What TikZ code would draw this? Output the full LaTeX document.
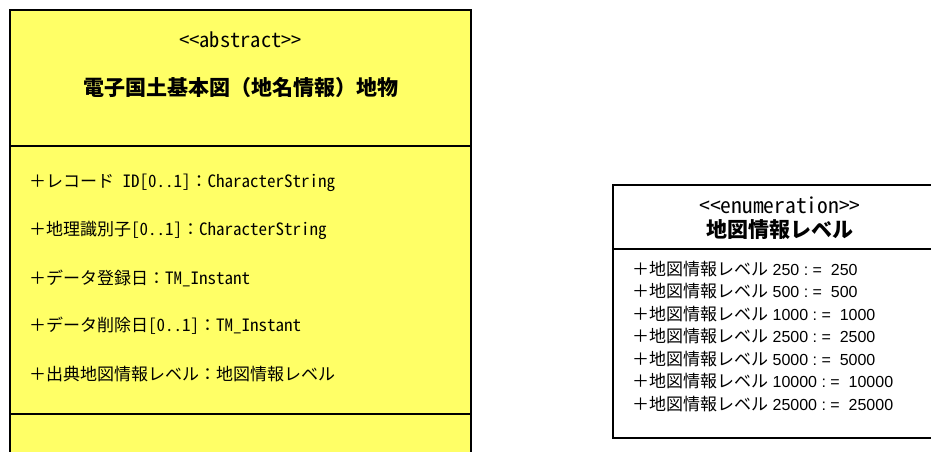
\documentclass[tikz,border=0pt]{standalone}
\usepackage{fontspec}
\setmainfont{Noto Sans CJK JP}
\newfontfamily\gothic[RawFeature=+hwid]{Noto Sans CJK JP}
\newfontfamily\jpfont{Noto Sans CJK JP}
\newfontfamily\arialfont{Liberation Sans}
\usetikzlibrary{positioning}
\definecolor{classyellow}{RGB}{255,255,102}
\newcommand{\stereotype}[1]{<\kern0pt<#1>\kern0pt>}
\newcommand{\fwplus}{{\jpfont ＋}}
\newcommand{\fwcolon}{{\jpfont ：}}

\begin{document}
\begin{tikzpicture}[x=1pt, y=-1pt, class box/.style={draw, line width=1.5pt}, stereo/.style={font=\gothic\fontsize{20.5}{22}\selectfont}, class name/.style={font=\fontsize{21}{23}\selectfont\bfseries}, attr/.style={anchor=west, inner sep=0pt, font=\gothic\fontsize{17}{19}\selectfont}, enum attr/.style={anchor=west, inner sep=0pt, font=\fontsize{17}{19}\selectfont}]

\useasboundingbox (0,0) rectangle (931,452);
\clip (0,0) rectangle (931,452);

% abstract class
\draw[class box, fill=classyellow] (10,10) rectangle (471,470);
\draw[class box] (10,146) -- (471,146);
\draw[class box] (10,414) -- (471,414);

\node[stereo](abs) at (240.5,40) {\stereotype{abstract}};
\node[class name](feature) at (240.5,88) {電子国土基本図（地名情報）地物};

\node[attr](recid) at (29,183) {\fwplus レコード ID[0..1]\fwcolon CharacterString};
\node[attr](geoid) at (29,230) {\fwplus 地理識別子[0..1]\fwcolon CharacterString};
\node[attr](regdate) at (29,278) {\fwplus データ登録日\fwcolon TM\_Instant};
\node[attr](deldate) at (29,326) {\fwplus データ削除日[0..1]\fwcolon TM\_Instant};
\node[attr](srclevel) at (29,374) {\fwplus 出典地図情報レベル\fwcolon 地図情報レベル};

% enumeration
\draw[class box, fill=white] (613,185) rectangle (947,438);
\draw[class box] (613,249) -- (947,249);

\node[stereo, font=\gothic\fontsize{21.5}{22}\selectfont](enum) at (780,205) {\stereotype{enumeration}};
\node[class name](level) at (780,230) {地図情報レベル};

\foreach \v [count=\i from 0] in {250,500,1000,2500,5000,10000,25000}
  \node[enum attr](lv\i) at (632,{269+22.5*\i}) {＋地図情報レベル{\arialfont\fontsize{16}{19}\selectfont\ \v\ :\ =\ \ \v}};

\end{tikzpicture}
\end{document}
